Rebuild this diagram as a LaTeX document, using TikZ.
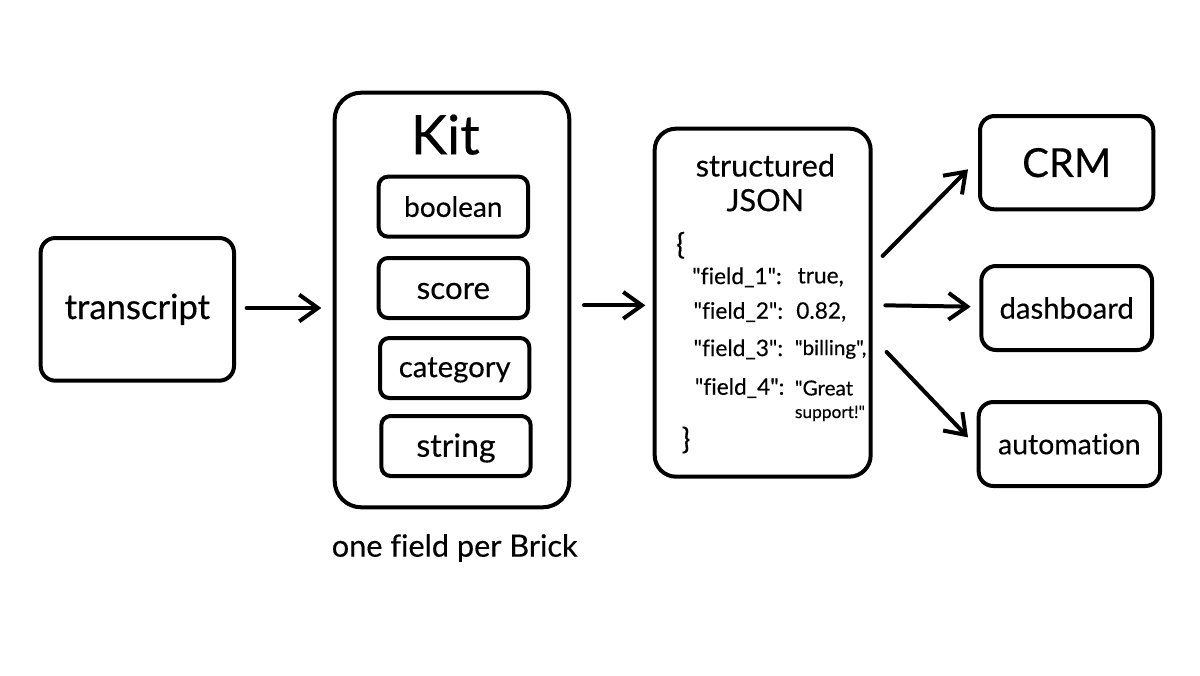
\documentclass[tikz,border=0pt]{standalone}
\usepackage{fontspec}
\setmainfont{Lato}[Ligatures={TeXOff,CommonOff},FakeBold=0.35]
\usetikzlibrary{arrows.meta}
\newcommand{\pushdown}[2]{\raisebox{0pt}[\dimexpr\height+#1\relax][\depth]{#2}}
\tikzset{
  box/.style ={draw, line width=3pt, rounded corners=11pt, inner sep=0},
  brick/.style ={draw, line width=3pt, rounded corners=7pt, inner sep=0, minimum width=112pt, minimum height=45pt},
  flow/.style ={-{Straight Barb[length=14pt,width=20pt,line width=3pt]}, line width=3pt, line cap=round},
  jsonkey/.style ={inner sep=0, anchor=west, font=\fontsize{17}{19}\selectfont},
  jsonval/.style ={inner sep=0, anchor=west, font=\fontsize{15.5}{18}\selectfont},
  brace/.style ={inner sep=0, anchor=west, font=\fontsize{22}{24}\selectfont}
}
\begin{document}
\begin{tikzpicture}[x=1pt,y=-1pt]
\useasboundingbox (0,0) rectangle (900,506.25);
\node[box, minimum width=145pt, minimum height=107pt, font=\fontsize{26}{30}\selectfont] (transcript) at (103,232) {transcript};
\node[box, minimum width=176pt, minimum height=311pt, rounded corners=20pt] (kit) at (339,225) {};
\node[inner sep=0, font=\fontsize{41}{44}\selectfont] (kitlabel) at (334,101) {Kit};
\node[brick, font=\fontsize{21}{24}\selectfont] (boolean) at (340,155) {boolean};
\node[brick, font=\fontsize{23.5}{26}\selectfont] (score) at (340,216) {\pushdown{4.5pt}{score}};
\node[brick, font=\fontsize{22}{25}\selectfont] (category) at (341,276) {\pushdown{3pt}{category}};
\node[brick, font=\fontsize{24}{27}\selectfont] (string) at (342,334.5) {\pushdown{3pt}{string}};
\node[inner sep=0, font=\fontsize{23}{26}\selectfont] (note1) at (341,411) {one field per Brick};
\node[box, minimum width=162pt, minimum height=261pt, rounded corners=16pt] (json) at (572,227) {};
\node[inner sep=0, align=center, font=\fontsize{23}{26}\selectfont] (jsonlabel) at (574,137) {structured\\JSON};
\node[brace] (open) at (507,184) {\{};
\node[jsonkey] (key1) at (519,208) {"field\_1":};
\node[jsonval, font=\fontsize{17}{19}\selectfont] (val1) at (598,208) {true,};
\node[jsonkey] (key2) at (520,234) {"field\_2":};
\node[jsonval, font=\fontsize{17}{19}\selectfont] (val2) at (597,234) {0.82,};
\node[jsonkey] (key3) at (520,262) {"field\_3":};
\node[jsonval] (val3) at (596,262) {"billing",};
\node[jsonkey] (key4) at (521,291) {"field\_4":};
\node[jsonval] (val4) at (596,291) {"Great};
\node[jsonval, font=\fontsize{13}{15}\selectfont] (val5) at (596,310) {support!"};
\node[brace] (close) at (511,330) {\}};
\node[box, minimum width=130pt, minimum height=70pt, font=\fontsize{30}{34}\selectfont] (crm) at (800,122) {CRM};
\node[box, minimum width=128pt, minimum height=63pt, font=\fontsize{22}{26}\selectfont] (dashboard) at (800,231) {dashboard};
\node[box, minimum width=136pt, minimum height=63pt, font=\fontsize{21.3}{25}\selectfont] (automation) at (802,333) {automation};
\coordinate (a1) at (185,231);
\coordinate (a2) at (241,231);
\coordinate (b1) at (438,229);
\coordinate (b2) at (484,229);
\coordinate (c1) at (662,192);
\coordinate (c2) at (726,127);
\coordinate (d1) at (664,229);
\coordinate (d2) at (728,230);
\coordinate (e1) at (665,264);
\coordinate (e2) at (726,328);
\draw[flow] (a1) -- (a2);
\draw[flow] (b1) -- (b2);
\draw[flow] (c1) -- (c2);
\draw[flow] (d1) -- (d2);
\draw[flow] (e1) -- (e2);
\end{tikzpicture}
\end{document}
